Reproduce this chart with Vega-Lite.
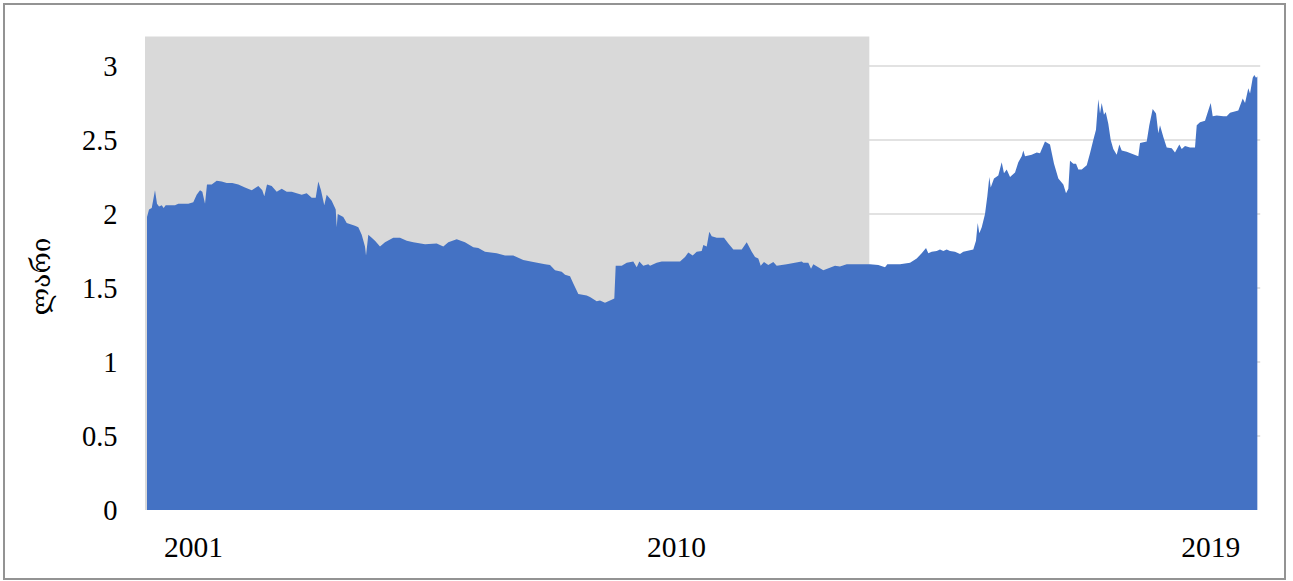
{
  "$schema": "https://vega.github.io/schema/vega-lite/v6.json",
  "width": 1281,
  "height": 575,
  "autosize": {"type": "none"},
  "padding": {"left": 4, "top": 4, "right": 8, "bottom": 2},
  "background": "white",
  "config": {"view": {"stroke": "#939393", "strokeWidth": 2}},
  "resolve": {"axis": {"x": "independent", "y": "independent"}},
  "datasets": {
    "grid": [{"level": 0.5}, {"level": 1}, {"level": 1.5}, {"level": 2}, {"level": 2.5}, {"level": 3}],
    "shade": [{"start": 2000.965, "end": 2013.562, "top": 3.2}],
    "rate": [
      {"t": 2001.000, "v": 1.98}, {"t": 2001.035, "v": 2.03}, {"t": 2001.082, "v": 2.04}, {"t": 2001.139, "v": 2.16},
      {"t": 2001.174, "v": 2.07}, {"t": 2001.209, "v": 2.05}, {"t": 2001.256, "v": 2.06}, {"t": 2001.290, "v": 2.04},
      {"t": 2001.325, "v": 2.06}, {"t": 2001.400, "v": 2.06}, {"t": 2001.487, "v": 2.06}, {"t": 2001.544, "v": 2.07},
      {"t": 2001.718, "v": 2.07}, {"t": 2001.805, "v": 2.08}, {"t": 2001.864, "v": 2.13}, {"t": 2001.922, "v": 2.16},
      {"t": 2001.962, "v": 2.15}, {"t": 2002.009, "v": 2.07}, {"t": 2002.043, "v": 2.20}, {"t": 2002.125, "v": 2.20},
      {"t": 2002.212, "v": 2.225}, {"t": 2002.299, "v": 2.22}, {"t": 2002.386, "v": 2.21}, {"t": 2002.483, "v": 2.21},
      {"t": 2002.588, "v": 2.20}, {"t": 2002.704, "v": 2.18}, {"t": 2002.821, "v": 2.16}, {"t": 2002.936, "v": 2.19},
      {"t": 2003.005, "v": 2.16}, {"t": 2003.040, "v": 2.12}, {"t": 2003.087, "v": 2.20}, {"t": 2003.169, "v": 2.19},
      {"t": 2003.256, "v": 2.15}, {"t": 2003.343, "v": 2.17}, {"t": 2003.430, "v": 2.15}, {"t": 2003.517, "v": 2.15},
      {"t": 2003.603, "v": 2.14}, {"t": 2003.690, "v": 2.13}, {"t": 2003.777, "v": 2.14}, {"t": 2003.864, "v": 2.11},
      {"t": 2003.934, "v": 2.11}, {"t": 2003.979, "v": 2.22}, {"t": 2004.026, "v": 2.16}, {"t": 2004.083, "v": 2.06},
      {"t": 2004.125, "v": 2.13}, {"t": 2004.212, "v": 2.09}, {"t": 2004.282, "v": 2.03}, {"t": 2004.299, "v": 1.91},
      {"t": 2004.317, "v": 2.00}, {"t": 2004.414, "v": 1.98}, {"t": 2004.473, "v": 1.94}, {"t": 2004.617, "v": 1.92},
      {"t": 2004.675, "v": 1.91}, {"t": 2004.734, "v": 1.86}, {"t": 2004.791, "v": 1.78}, {"t": 2004.809, "v": 1.72},
      {"t": 2004.849, "v": 1.86}, {"t": 2004.908, "v": 1.84}, {"t": 2004.965, "v": 1.82}, {"t": 2005.052, "v": 1.78},
      {"t": 2005.139, "v": 1.81}, {"t": 2005.283, "v": 1.84}, {"t": 2005.400, "v": 1.84}, {"t": 2005.517, "v": 1.82},
      {"t": 2005.631, "v": 1.81}, {"t": 2005.835, "v": 1.795}, {"t": 2006.038, "v": 1.80}, {"t": 2006.153, "v": 1.78},
      {"t": 2006.240, "v": 1.81}, {"t": 2006.386, "v": 1.83}, {"t": 2006.530, "v": 1.81}, {"t": 2006.675, "v": 1.775},
      {"t": 2006.762, "v": 1.77}, {"t": 2006.878, "v": 1.745}, {"t": 2007.082, "v": 1.735}, {"t": 2007.226, "v": 1.72},
      {"t": 2007.370, "v": 1.72}, {"t": 2007.544, "v": 1.69}, {"t": 2007.718, "v": 1.675}, {"t": 2007.922, "v": 1.66},
      {"t": 2008.009, "v": 1.655}, {"t": 2008.096, "v": 1.62}, {"t": 2008.212, "v": 1.61}, {"t": 2008.270, "v": 1.59},
      {"t": 2008.357, "v": 1.58}, {"t": 2008.414, "v": 1.53}, {"t": 2008.501, "v": 1.46}, {"t": 2008.647, "v": 1.45},
      {"t": 2008.704, "v": 1.44}, {"t": 2008.821, "v": 1.41}, {"t": 2008.878, "v": 1.415}, {"t": 2008.965, "v": 1.40},
      {"t": 2009.052, "v": 1.415}, {"t": 2009.127, "v": 1.43}, {"t": 2009.151, "v": 1.65}, {"t": 2009.256, "v": 1.65},
      {"t": 2009.343, "v": 1.67}, {"t": 2009.457, "v": 1.68}, {"t": 2009.517, "v": 1.64}, {"t": 2009.562, "v": 1.68},
      {"t": 2009.631, "v": 1.65}, {"t": 2009.718, "v": 1.66}, {"t": 2009.748, "v": 1.65}, {"t": 2009.864, "v": 1.67},
      {"t": 2009.951, "v": 1.68}, {"t": 2010.270, "v": 1.68}, {"t": 2010.357, "v": 1.71}, {"t": 2010.414, "v": 1.74},
      {"t": 2010.490, "v": 1.72}, {"t": 2010.560, "v": 1.745}, {"t": 2010.647, "v": 1.75}, {"t": 2010.675, "v": 1.79},
      {"t": 2010.734, "v": 1.78}, {"t": 2010.779, "v": 1.88}, {"t": 2010.821, "v": 1.85}, {"t": 2010.908, "v": 1.84},
      {"t": 2011.035, "v": 1.84}, {"t": 2011.110, "v": 1.80}, {"t": 2011.197, "v": 1.76}, {"t": 2011.343, "v": 1.76},
      {"t": 2011.430, "v": 1.81}, {"t": 2011.517, "v": 1.745}, {"t": 2011.574, "v": 1.71}, {"t": 2011.631, "v": 1.70},
      {"t": 2011.673, "v": 1.65}, {"t": 2011.730, "v": 1.675}, {"t": 2011.805, "v": 1.655}, {"t": 2011.892, "v": 1.675},
      {"t": 2011.951, "v": 1.65}, {"t": 2012.125, "v": 1.66}, {"t": 2012.386, "v": 1.68}, {"t": 2012.414, "v": 1.67},
      {"t": 2012.501, "v": 1.67}, {"t": 2012.548, "v": 1.63}, {"t": 2012.588, "v": 1.66}, {"t": 2012.762, "v": 1.62},
      {"t": 2012.965, "v": 1.65}, {"t": 2013.052, "v": 1.645}, {"t": 2013.169, "v": 1.66}, {"t": 2013.400, "v": 1.66},
      {"t": 2013.574, "v": 1.66}, {"t": 2013.718, "v": 1.655}, {"t": 2013.835, "v": 1.64}, {"t": 2013.875, "v": 1.66},
      {"t": 2014.096, "v": 1.66}, {"t": 2014.270, "v": 1.67}, {"t": 2014.386, "v": 1.70}, {"t": 2014.473, "v": 1.735},
      {"t": 2014.548, "v": 1.77}, {"t": 2014.588, "v": 1.735}, {"t": 2014.647, "v": 1.745}, {"t": 2014.734, "v": 1.75},
      {"t": 2014.791, "v": 1.76}, {"t": 2014.849, "v": 1.75}, {"t": 2014.908, "v": 1.76}, {"t": 2014.965, "v": 1.75},
      {"t": 2015.052, "v": 1.745}, {"t": 2015.139, "v": 1.73}, {"t": 2015.197, "v": 1.745}, {"t": 2015.370, "v": 1.76},
      {"t": 2015.417, "v": 1.82}, {"t": 2015.447, "v": 1.94}, {"t": 2015.475, "v": 1.87}, {"t": 2015.517, "v": 1.91},
      {"t": 2015.574, "v": 2.00}, {"t": 2015.614, "v": 2.12}, {"t": 2015.649, "v": 2.25}, {"t": 2015.673, "v": 2.18},
      {"t": 2015.730, "v": 2.24}, {"t": 2015.805, "v": 2.26}, {"t": 2015.864, "v": 2.35}, {"t": 2015.904, "v": 2.275},
      {"t": 2015.951, "v": 2.30}, {"t": 2016.009, "v": 2.25}, {"t": 2016.096, "v": 2.28}, {"t": 2016.153, "v": 2.35},
      {"t": 2016.212, "v": 2.39}, {"t": 2016.240, "v": 2.43}, {"t": 2016.270, "v": 2.39}, {"t": 2016.386, "v": 2.40},
      {"t": 2016.473, "v": 2.415}, {"t": 2016.530, "v": 2.41}, {"t": 2016.617, "v": 2.49}, {"t": 2016.704, "v": 2.47},
      {"t": 2016.774, "v": 2.34}, {"t": 2016.849, "v": 2.24}, {"t": 2016.936, "v": 2.20}, {"t": 2016.983, "v": 2.14},
      {"t": 2017.023, "v": 2.17}, {"t": 2017.052, "v": 2.36}, {"t": 2017.110, "v": 2.34}, {"t": 2017.157, "v": 2.34},
      {"t": 2017.197, "v": 2.30}, {"t": 2017.256, "v": 2.30}, {"t": 2017.343, "v": 2.33}, {"t": 2017.400, "v": 2.41},
      {"t": 2017.457, "v": 2.50}, {"t": 2017.504, "v": 2.57}, {"t": 2017.544, "v": 2.775}, {"t": 2017.574, "v": 2.68},
      {"t": 2017.603, "v": 2.75}, {"t": 2017.643, "v": 2.67}, {"t": 2017.673, "v": 2.69}, {"t": 2017.718, "v": 2.61},
      {"t": 2017.760, "v": 2.50}, {"t": 2017.805, "v": 2.44}, {"t": 2017.864, "v": 2.40}, {"t": 2017.910, "v": 2.47},
      {"t": 2017.951, "v": 2.43}, {"t": 2018.038, "v": 2.42}, {"t": 2018.240, "v": 2.39}, {"t": 2018.270, "v": 2.48},
      {"t": 2018.386, "v": 2.49}, {"t": 2018.431, "v": 2.60}, {"t": 2018.490, "v": 2.71}, {"t": 2018.548, "v": 2.68},
      {"t": 2018.588, "v": 2.545}, {"t": 2018.617, "v": 2.60}, {"t": 2018.675, "v": 2.52}, {"t": 2018.734, "v": 2.45},
      {"t": 2018.821, "v": 2.445}, {"t": 2018.878, "v": 2.415}, {"t": 2018.953, "v": 2.47}, {"t": 2018.995, "v": 2.44},
      {"t": 2019.052, "v": 2.46}, {"t": 2019.139, "v": 2.45}, {"t": 2019.226, "v": 2.45}, {"t": 2019.256, "v": 2.60},
      {"t": 2019.313, "v": 2.62}, {"t": 2019.400, "v": 2.63}, {"t": 2019.457, "v": 2.70}, {"t": 2019.499, "v": 2.75},
      {"t": 2019.534, "v": 2.66}, {"t": 2019.603, "v": 2.665}, {"t": 2019.718, "v": 2.66}, {"t": 2019.777, "v": 2.66},
      {"t": 2019.835, "v": 2.685}, {"t": 2019.979, "v": 2.70}, {"t": 2020.056, "v": 2.78}, {"t": 2020.096, "v": 2.75},
      {"t": 2020.153, "v": 2.85}, {"t": 2020.183, "v": 2.815}, {"t": 2020.230, "v": 2.92}, {"t": 2020.257, "v": 2.94},
      {"t": 2020.287, "v": 2.92}, {"t": 2020.310, "v": 2.93}
    ]
  },
  "layer": [
    {
      "data": {"name": "grid"},
      "mark": {"type": "rule", "color": "#d9d9d9", "strokeWidth": 1.6},
      "encoding": {
        "y": {"field": "level", "type": "quantitative", "axis": null},
        "x": {"datum": 2001.0, "type": "quantitative", "axis": null},
        "x2": {"datum": 2020.36}
      }
    },
    {
      "data": {"name": "shade"},
      "mark": {"type": "rect", "color": "#d9d9d9"},
      "encoding": {
        "x": {"field": "start", "type": "quantitative", "axis": null},
        "x2": {"field": "end"},
        "y": {"field": "top", "type": "quantitative", "axis": null},
        "y2": {"datum": 0}
      }
    },
    {
      "data": {"name": "rate"},
      "mark": {"type": "area", "color": "#4472C4", "opacity": 1},
      "encoding": {
        "x": {
          "field": "t",
          "type": "quantitative",
          "scale": {"domain": [1998.513, 2020.791], "nice": false, "zero": false},
          "axis": {
            "orient": "bottom",
            "offset": -69,
            "title": null,
            "values": [2001.8, 2010.2, 2019.49],
            "labelExpr": "floor(datum.value)",
            "domain": false,
            "ticks": false,
            "grid": false,
            "labelFlush": false,
            "labelOverlap": false,
            "labelBound": false,
            "labelFont": "Liberation Serif",
            "labelFontSize": 29.5,
            "labelColor": "#000000",
            "labelPadding": 23,
            "zindex": 1
          }
        },
        "y": {
          "field": "v",
          "type": "quantitative",
          "scale": {"domain": [-0.466, 3.419], "nice": false, "zero": false},
          "axis": {
            "orient": "left",
            "offset": -143,
            "values": [0, 0.5, 1, 1.5, 2, 2.5, 3],
            "format": "~g",
            "domain": false,
            "ticks": false,
            "grid": false,
            "labelFont": "Liberation Serif",
            "labelFontSize": 28.5,
            "labelColor": "#000000",
            "labelPadding": 30,
            "labelOverlap": false,
            "labelFlush": false,
            "title": "ლარი",
            "titleFont": "DejaVu Serif, DejaVu Sans, serif",
            "titleFontSize": 26,
            "titleFontWeight": "normal",
            "titleColor": "#000000",
            "titleBaseline": "middle",
            "titleX": -106,
            "titleY": 272,
            "zindex": 1
          }
        },
        "y2": {"datum": 0}
      }
    }
  ]
}
